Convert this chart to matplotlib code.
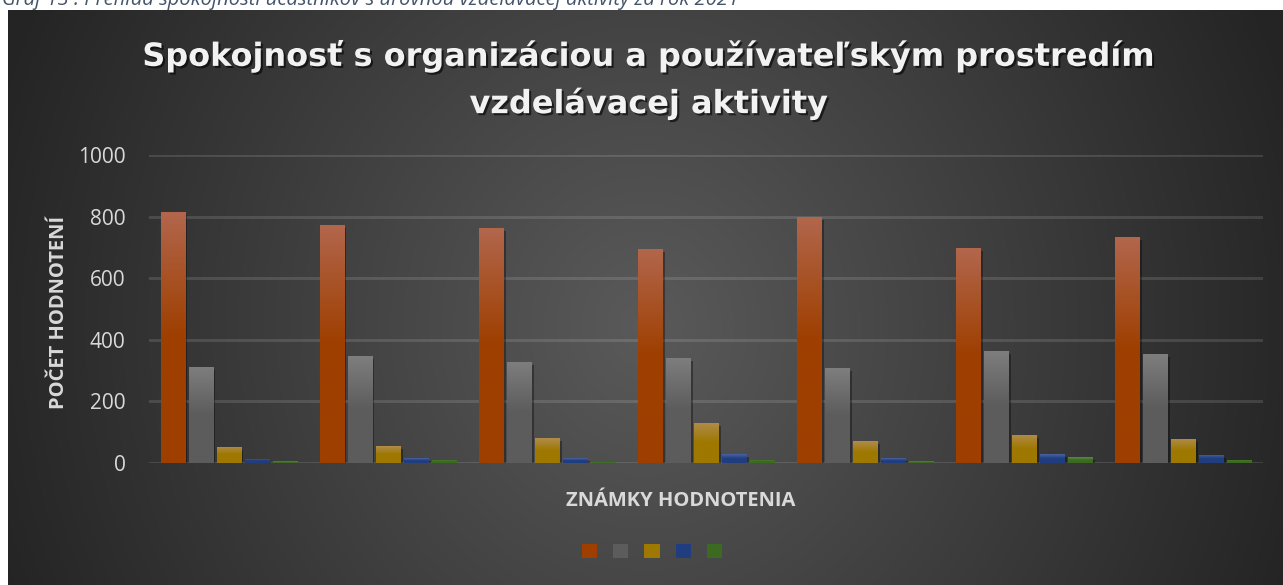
import numpy as np
import matplotlib
matplotlib.use("Agg")
import matplotlib.pyplot as plt
from matplotlib.patches import Patch
from matplotlib.colors import LinearSegmentedColormap
import matplotlib.patheffects as pe

plt.rcParams['font.family'] = ['Open Sans', 'DejaVu Sans']

# data
categories = ['1', '2', '3', '4', '5', '6', '7']
grade_1 = [815, 773, 763, 695, 799, 698, 734]
grade_2 = [312, 347, 328, 341, 308, 364, 354]
grade_3 = [52, 55, 81, 130, 71, 91, 78]
grade_4 = [13, 16, 16, 29, 16, 29, 26]
grade_5 = [6, 10, 3, 10, 6, 19, 10]
series = [grade_1, grade_2, grade_3, grade_4, grade_5]

base_colors = ['#9e3f00', '#5c5c5c', '#9e7800', '#203d80', '#3b6a20']
top_colors = ['#b2664c', '#7e7e7e', '#b08c4a', '#4b64a0', '#5b8a46']
yticks = [0, 200, 400, 600, 800, 1000]

W, H = 1283, 585
fig = plt.figure(figsize=(W / 100, H / 100), dpi=100)
fig.patch.set_facecolor('white')

# background of the chart area (radial-ish gradient)
bg = fig.add_axes([8 / W, 0, 1 - 8 / W, 575 / H])
bg.set_axis_off()
yy, xx = np.mgrid[0:1:300j, 0:1:600j]
r = np.sqrt(((xx - 0.5) / 0.55) ** 2 + ((yy - 0.55) / 1.3) ** 2)
val = np.clip(90 - 55 * r, 36, 90) / 255.0
bg.imshow(np.dstack([val, val, val]), aspect='auto', extent=[0, 1, 0, 1],
          interpolation='bilinear')
bg.set_xlim(0, 1)
bg.set_ylim(0, 1)

# caption, cut off at the top of the image like in the source
fig.text(2 / W, 1 - 5 / H, 'Graf 13 : Prehľad spokojnosti účastníkov s úrovňou vzdelávacej aktivity za rok 2021',
         color='#44546a', fontsize=14.5, style='italic', va='baseline', ha='left')

ax = fig.add_axes([149 / W, (H - 463) / H, 1114 / W, 308 / H])
ax.patch.set_alpha(0)

x = np.arange(len(categories))
step = 28 / 159
width = 24 / 159
for j, vals in enumerate(series):
    cmap = LinearSegmentedColormap.from_list('g%d' % j, [base_colors[j], base_colors[j], top_colors[j]])
    bars = ax.bar(x + (j - 2) * step, vals, width, color=base_colors[j], zorder=3,
                  path_effects=[pe.SimplePatchShadow(offset=(2, -2), alpha=0.35, shadow_rgbFace='black'), pe.Normal()])
    for b in bars:
        grad = np.linspace(0, 1, 100).reshape(-1, 1)
        im = ax.imshow(grad, cmap=cmap, aspect='auto', origin='lower', zorder=4,
                       extent=[b.get_x(), b.get_x() + b.get_width(), 0, b.get_height()])
        im.set_clip_path(b)

ax.set_xlim(-0.5, len(categories) - 0.5)
ax.set_ylim(0, 1000)
ax.set_yticks(yticks)
ax.set_yticklabels([str(t) for t in yticks])
ax.set_xticks([])
ax.grid(axis='y', color='white', alpha=0.13, linewidth=2, zorder=1)
for s in ax.spines.values():
    s.set_visible(False)
ax.tick_params(axis='y', length=0, pad=17, labelcolor='#d9d9d9', labelsize=15)

ax.set_ylabel('POČET HODNOTENÍ', color='#d9d9d9', fontsize=14.5, fontweight='bold')
ax.yaxis.set_label_coords(-(149 - 59) / 1114, 0.49)
ax.set_xlabel('ZNÁMKY HODNOTENIA', color='#d9d9d9', fontsize=14.5, fontweight='bold')
ax.xaxis.set_label_coords((681 - 149) / 1114, -(501 - 463) / 308)
ax.xaxis.label.set_va('center')
ax.yaxis.label.set_va('center')

fig.text(649 / W, 1 - 80 / H, 'Spokojnosť s organizáciou a používateľským prostredím\nvzdelávacej aktivity',
         ha='center', va='center', color='#f2f2f2', fontsize=23, fontweight='bold', linespacing=1.55,
         family='DejaVu Sans',
         path_effects=[pe.withSimplePatchShadow(offset=(1.5, -1.5), alpha=0.6, shadow_rgbFace='black')])

handles = [Patch(facecolor=c) for c in base_colors]
fig.legend(handles, [''] * 5, loc='center', bbox_to_anchor=(652 / W, 1 - 552 / H), ncol=5,
           frameon=False, handlelength=1.0, handleheight=1.0, handletextpad=0,
           columnspacing=1.05, fontsize=11)

fig.savefig('out.png', dpi=100)
